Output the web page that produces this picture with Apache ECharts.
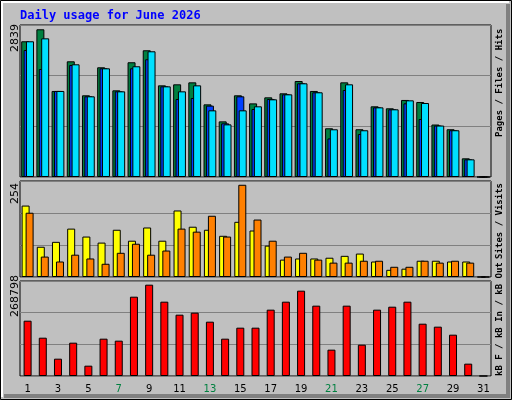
<!DOCTYPE html>
<html><head><meta charset="utf-8">
<script src="https://cdn.jsdelivr.net/npm/echarts@6/dist/echarts.min.js"></script>
<style>html,body{margin:0;padding:0;background:#c0c0c0}#c{width:512px;height:400px}</style>
</head><body><div id="c"></div>
<script>
var days = [];
for (var i = 1; i <= 31; i++) days.push(String(i));
var weekendDays = ['6','7','13','14','20','21','27','28'];
var hits  = [2535,2759,1607,2161,1526,2049,1619,2143,2367,1712,1731,1768,1357,1039,1526,1375,1488,1563,1793,1607,910,1768,892,1320,1283,1439,1401,980,892,349,0];
var files = [2535,2590,1607,2105,1507,2030,1600,2068,2348,1693,1600,1712,1245,983,1245,1320,1451,1544,1750,1582,891,1731,873,1301,1264,1432,1382,961,873,330,0];
var pages = [2372,2017,1607,2092,1507,2030,1600,2030,2199,1693,1457,1476,1333,1002,1507,1270,1457,1544,1750,1582,720,1625,803,1301,1264,1376,1083,961,873,330,0];
var visits = [189,80,93,128,107,91,125,96,131,96,176,133,125,109,146,123,83,46,49,49,51,56,62,41,19,22,43,43,41,41,0];
var sites  = [170,54,41,59,49,35,64,88,59,70,128,120,162,107,244,152,96,54,64,46,38,38,43,43,27,27,43,38,43,38,0];
var kbytes = [156500,108400,49000,94300,29200,105600,100000,224400,258400,210300,173500,179200,153700,105600,136700,136700,187700,210300,241400,199000,74500,199000,88600,187700,196100,210300,148000,139600,116900,34900,0];
var maxHits = 2839, maxVisits = 254, maxKB = 268798;

var chart = echarts.init(document.getElementById('c'));
var grids = [
  {left:20, right:21, top:25, height:152},
  {left:20, right:21, top:181, height:96},
  {left:20, right:21, top:281, height:95}
];
function xa(i, show) {
  return {type:'category', gridIndex:i, data:days, axisTick:{show:false},
    axisLine:{show:false},
    axisLabel:{show:show, fontFamily:'DejaVu Sans', fontSize:10, margin:8,
      color:function(v){return weekendDays.indexOf(v)>=0?'#008040':'#000000';}}};
}
function ya(i, max) {
  return {type:'value', gridIndex:i, min:0, max:max, interval:max/3,
    axisLabel:{show:false}, axisLine:{show:false}, axisTick:{show:false},
    splitLine:{lineStyle:{color:'#808080', width:1}}};
}
var bs = {borderColor:'#000', borderWidth:1};
function bar(name, data, xi, color, gap) {
  return {name:name, type:'bar', xAxisIndex:xi, yAxisIndex:xi, data:data,
    barWidth:8, barGap:gap, itemStyle:Object.assign({color:color}, bs), animation:false};
}
var leg = {fontFamily:'DejaVu Sans Mono', fontSize:9, fontWeight:'bold'};
function rt(c){return Object.assign({color:c}, leg);}
chart.setOption({
  backgroundColor:'#c0c0c0',
  animation:false,
  grid: grids.map(function(g){return Object.assign({show:true, backgroundColor:'#c0c0c0', borderColor:'#000', borderWidth:1}, g);}),
  xAxis:[xa(0,false), xa(1,false), xa(2,true)],
  yAxis:[ya(0,maxHits), ya(1,maxVisits), ya(2,maxKB)],
  series:[
    bar('Hits', hits, 0, '#008040', '-70%'),
    bar('Pages', pages, 0, '#0040ff', '-70%'),
    bar('Files', files, 0, '#00e0ff', '-70%'),
    bar('Visits', visits, 1, '#ffff00', '-50%'),
    bar('Sites', sites, 1, '#ff8000', '-50%'),
    bar('kB F', kbytes, 2, '#ff0000', '0%')
  ],
  graphic:[
    {type:'rect', shape:{x:0.5,y:0.5,width:511,height:399}, style:{fill:'none', stroke:'#000', lineWidth:1}, z:-1},
    {type:'polyline', shape:{points:[[2,397],[2,2],[509,2]]}, style:{stroke:'#fff', lineWidth:2, fill:'none'}},
    {type:'polyline', shape:{points:[[508,4],[508,396],[4,396]]}, style:{stroke:'#808080', lineWidth:4, fill:'none'}},
    {type:'text', x:20, y:16, style:{text:'Daily usage for June 2026', fill:'#0000ff', font:'bold 12px "DejaVu Sans Mono"', textVerticalAlign:'middle'}},
    {type:'text', x:15, y:52, rotation:Math.PI/2, style:{text:String(maxHits), fill:'#000', font:'11px "DejaVu Sans"', textVerticalAlign:'middle'}},
    {type:'text', x:15, y:204, rotation:Math.PI/2, style:{text:String(maxVisits), fill:'#000', font:'11px "DejaVu Sans"', textVerticalAlign:'middle'}},
    {type:'text', x:15, y:317, rotation:Math.PI/2, style:{text:String(maxKB), fill:'#000', font:'11px "DejaVu Sans"', textVerticalAlign:'middle'}},
    {type:'text', x:500, y:137, rotation:Math.PI/2, style:{text:'{a|Pages}{k| / }{b|Files}{k| / }{c|Hits}', textVerticalAlign:'middle',
      rich:{a:rt('#00c0c0'), b:rt('#0060ff'), c:rt('#008040'), k:rt('#000')}}},
    {type:'text', x:500, y:376, rotation:Math.PI/2, style:{text:'{r|kB F}{k| / }{b|kB In}{k| / }{g|kB Out} {o|Sites}{k| / }{y|Visits}', textVerticalAlign:'middle',
      rich:{r:rt('#ff0000'), b:rt('#0080ff'), g:rt('#00c000'), o:rt('#ff8000'), y:rt('#ffff00'), k:rt('#000')}}}
  ]
});
</script></body></html>
